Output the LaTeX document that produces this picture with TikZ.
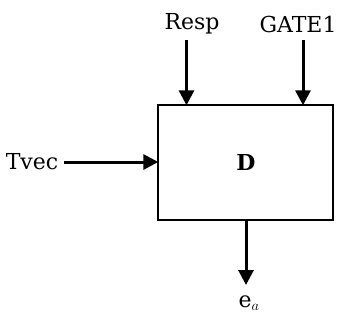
\documentclass[tikz,border=0pt]{standalone}
\usepackage{fontspec}
\setmainfont{DejaVu Serif}
\usetikzlibrary{arrows.meta}
\begin{document}
\begin{tikzpicture}[x=1pt,y=-1pt,
  lbl/.style={font=\fontsize{22}{26}\selectfont, inner sep=0pt},
  sig/.style={line width=3pt, -{Triangle[width=15pt,length=15pt]}, shorten >=-1pt},
  blk/.style={draw, line width=1.4pt, minimum width=175pt, minimum height=115pt, inner sep=0pt}]
\useasboundingbox (0,0) rectangle (338,322);
\node[blk] (D) at (245.5,162.5) {};
\node[lbl] (Dl) at (246,162) {\textbf{D}};
\node[lbl] (resp) at (192,24) {Resp};
\node[lbl] (gate) at (298,24) {GATE1};
\node[lbl] (tvec) at (32,162) {Tvec};
\node[lbl] (ea) at (249,303) {e$_a$};
\coordinate (r0) at (186.5,40);
\coordinate (g0) at (303,40);
\coordinate (t0) at (64,162);
\coordinate (e1) at (246,284);
\draw[sig] (r0) -- (r0 |- D.north);
\draw[sig] (g0) -- (g0 |- D.north);
\draw[sig] (t0) -- (D.west |- t0);
\draw[sig] (e1 |- D.south) -- (e1);
\end{tikzpicture}
\end{document}
